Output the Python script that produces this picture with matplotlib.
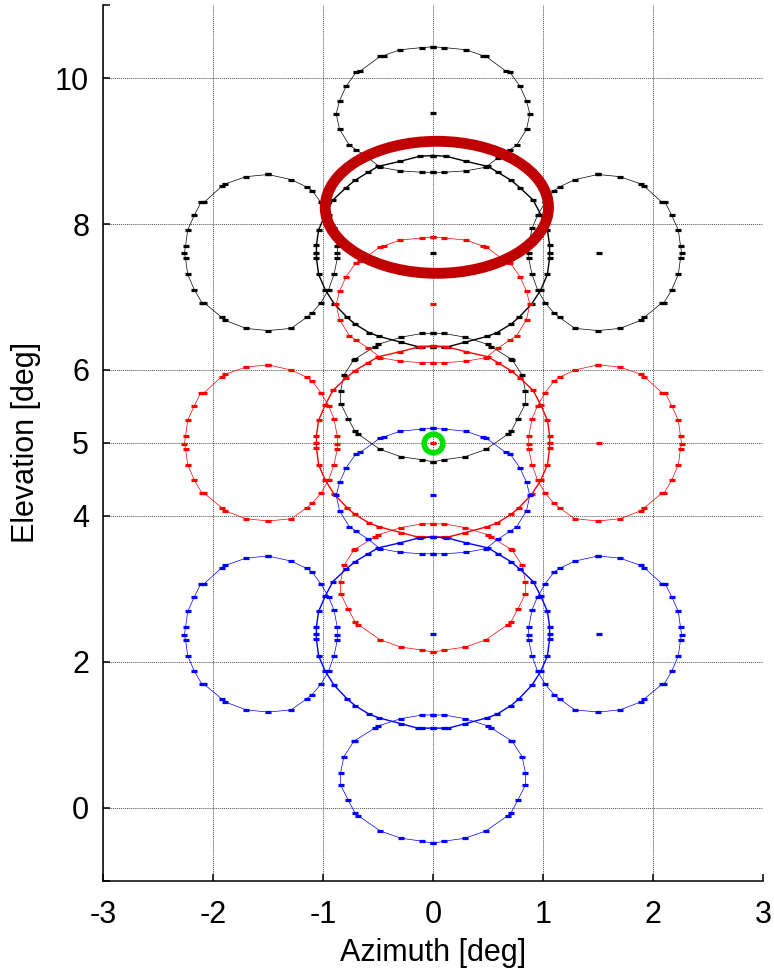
import numpy as np
import matplotlib
matplotlib.use("Agg")
import matplotlib.pyplot as plt
from matplotlib.patches import Ellipse
from matplotlib.ticker import FixedLocator

plt.rcParams['font.family'] = ['Liberation Sans', 'DejaVu Sans']
plt.rcParams['axes.unicode_minus'] = False

# elevation of the three beam clusters [deg]
group_el = [7.61, 5.00, 2.38]
group_colors = ['#000000', '#ff0000', '#0000ff']

# left side beam contour (azimuth, elevation offset from cluster centre)
side_az = [-1.50, -1.70, -1.89, -1.92, -2.08, -2.11, -2.17, -2.23, -2.25, -2.26,
           -2.25, -2.23, -2.17, -2.10, -2.08, -1.92, -1.89, -1.70, -1.50, -1.29,
           -1.15, -1.10, -1.02, -0.95, -0.90, -0.87, -0.87, -0.87, -0.90, -0.95,
           -1.02, -1.10, -1.15, -1.29, -1.50]
side_del = [1.07, 1.04, 0.94, 0.91, 0.69, 0.69, 0.51, 0.31, 0.09, -0.01,
            -0.08, -0.30, -0.51, -0.69, -0.69, -0.89, -0.93, -1.04, -1.07, -1.04,
            -0.89, -0.83, -0.69, -0.51, -0.30, -0.08, -0.01, 0.09, 0.33, 0.51,
            0.69, 0.85, 0.90, 1.00, 1.07]

# centre beam contour, right half (top to bottom)
centre_az = [0.00, 0.12, 0.30, 0.50, 0.59, 0.71, 0.79, 0.91, 0.98, 1.04, 1.06,
             1.06, 1.06, 1.04, 0.98, 0.90, 0.78, 0.71, 0.58, 0.49, 0.29, 0.14,
             0.10, 0.00]
centre_del = [1.33, 1.32, 1.25, 1.18, 1.10, 0.99, 0.89, 0.72, 0.52, 0.31, 0.10,
              0.00, -0.07, -0.30, -0.51, -0.70, -0.89, -0.98, -1.10, -1.15, -1.23,
              -1.29, -1.29, -1.29]

# upper beam contour, right half
upper_az = [0.00, 0.10, 0.30, 0.45, 0.48, 0.66, 0.70, 0.79, 0.85, 0.88, 0.85,
            0.76, 0.70, 0.59, 0.48, 0.30, 0.10, 0.00]
upper_del = [2.82, 2.81, 2.78, 2.70, 2.69, 2.49, 2.47, 2.28, 2.08, 1.90, 1.69,
             1.47, 1.41, 1.30, 1.17, 1.12, 1.10, 1.10]

# lower beam contour, right half
lower_az = [0.00, 0.10, 0.29, 0.50, 0.53, 0.71, 0.72, 0.81, 0.84, 0.84, 0.77,
            0.71, 0.68, 0.48, 0.29, 0.10, 0.00]
lower_del = [-1.11, -1.11, -1.16, -1.26, -1.29, -1.46, -1.47, -1.68, -1.90,
             -2.07, -2.28, -2.45, -2.49, -2.70, -2.80, -2.84, -2.87]

# beam pointing markers inside each cluster
dot_az = [0.0, 1.51, 0.0]
dot_del = [0.0, 0.0, 1.91]

# target and the large scan ellipse
target = (0.0, 5.0)
scan_centre = (0.035, 8.23)
scan_size = (2.03, 1.81)


def closed_half(az, de):
    """Mirror a right half contour about az=0 to close it."""
    az = np.asarray(az)
    de = np.asarray(de)
    return (np.concatenate([az, -az[::-1]]),
            np.concatenate([de, de[::-1]]))


fig = plt.figure(figsize=(7.74, 9.73), dpi=100)
ax = fig.add_axes([0.1331, 0.0950, 0.8527, 0.8996])

mk = dict(marker='_', markersize=4.2, markeredgewidth=2.3)

c_az, c_de = closed_half(centre_az, centre_del)
u_az, u_de = closed_half(upper_az, upper_del)
l_az, l_de = closed_half(lower_az, lower_del)
s_az = np.asarray(side_az)
s_de = np.asarray(side_del)

for el, col in zip(group_el, group_colors):
    ax.plot(s_az, s_de + el, color=col, lw=0.5, **mk)
    ax.plot(-s_az, s_de + el, color=col, lw=0.5, **mk)
    ax.plot(u_az, u_de + el, color=col, lw=0.5, **mk)
    ax.plot(l_az, l_de + el, color=col, lw=0.5, **mk)
    ax.plot(c_az, c_de + el, color=col, lw=1.0, **mk)
    ax.plot(dot_az, np.asarray(dot_del) + el, ls='none', color=col, **mk)

ax.add_patch(Ellipse(scan_centre, scan_size[0], scan_size[1], fill=False,
                     edgecolor='#c00000', lw=7.8, zorder=5))
ax.plot([target[0]], [target[1]], marker='o', markersize=13.5,
        markerfacecolor='none', markeredgecolor='#00e000',
        markeredgewidth=4.0, zorder=6)

ax.set_xlim(-3, 3)
ax.set_ylim(-1, 11)
ax.set_xticks([-3, -2, -1, 0, 1, 2, 3])
ax.set_yticks([0, 2, 4, 5, 6, 8, 10])
ax.yaxis.set_minor_locator(FixedLocator([-1, 11]))
ax.grid(True, which='major', linestyle=(0, (1, 1)), color='0.3', lw=0.7)
ax.set_axisbelow(True)

for side in ['top', 'right']:
    ax.spines[side].set_visible(False)
for side in ['left', 'bottom']:
    ax.spines[side].set_linewidth(1.1)

ax.tick_params(which='both', direction='in', length=5, width=1.1,
               labelsize=22, pad=10)
ax.tick_params(axis='x', pad=14)

ax.set_xlabel('Azimuth [deg]', fontsize=22, labelpad=6)
ax.set_ylabel('Elevation [deg]', fontsize=22, labelpad=10)

fig.savefig('out.png', dpi=100)
